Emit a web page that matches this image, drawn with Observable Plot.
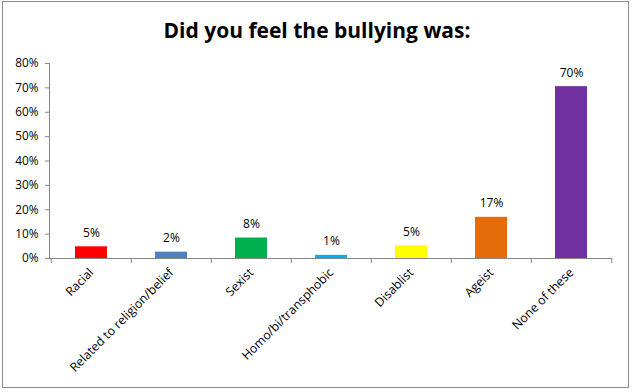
<!DOCTYPE html>
<html>
<head>
<meta charset="utf-8">
<script src="https://cdn.jsdelivr.net/npm/d3@7"></script>
<script src="https://cdn.jsdelivr.net/npm/@observablehq/plot@0.6"></script>
<style>
  html, body { margin: 0; padding: 0; background: #fff; }
  #wrap { position: relative; width: 634px; height: 392px; font-family: "Open Sans", sans-serif; }
  #frame { position: absolute; left: 2px; top: 1px; width: 625px; height: 385px; border: 1.5px solid #8a8a8a; box-sizing: content-box; pointer-events: none; }
  #title { position: absolute; left: 0; top: 17px; width: 634px; text-align: center; font-size: 21px; line-height: 26px; font-weight: 700; color: #000; }
  #chart { position: absolute; left: 0; top: 0; }
</style>
</head>
<body>
<div id="wrap">
  <div id="chart"></div>
  <div id="title">Did you feel the bullying was:</div>
  <div id="frame"></div>
</div>
<script>
const categories = ["Racial", "Related to religion/belief", "Sexist", "Homo/bi/transphobic", "Disablist", "Ageist", "None of these"];
const values = [0.048, 0.026, 0.084, 0.013, 0.052, 0.169, 0.705];
const labels = ["5%", "2%", "8%", "1%", "5%", "17%", "70%"];
const colors = ["#ff0000", "#4f81bd", "#00b050", "#00b0f0", "#ffff00", "#e46c0a", "#7030a0"];
const yTicks = [0, 0.1, 0.2, 0.3, 0.4, 0.5, 0.6, 0.7, 0.8];

const data = categories.map((c, i) => ({category: c, value: values[i], label: labels[i], color: colors[i]}));

const W = 634, H = 392, ML = 49, MR = 22, MT = 63, MB = 134;
const step = (W - ML - MR) / categories.length;
const axisColor = "#868686";

const chart = Plot.plot({
  width: W,
  height: H,
  marginLeft: ML,
  marginRight: MR,
  marginTop: MT,
  marginBottom: MB,
  style: {fontFamily: "Open Sans, sans-serif", fontSize: "12px", color: "#000", background: "transparent", overflow: "visible"},
  x: {domain: categories, paddingInner: 0.6, paddingOuter: 0.3, label: null},
  y: {domain: [0, 0.8], label: null},
  marks: [
    Plot.axisY({ticks: yTicks, tickFormat: d => Math.round(d * 100) + "%", tickSize: 4, tickPadding: 7, stroke: axisColor, fontSize: 11.8, label: null}),
    Plot.axisX({tickRotate: -45, tickSize: 0, tickPadding: 12, fontSize: 12.3, label: null}),
    Plot.barY(data, {x: "category", y: "value", fill: "color"}),
    Plot.text(data, {x: "category", y: "value", text: "label", dy: -14, fontSize: 12, fill: "#000"}),
    Plot.ruleY([0], {stroke: axisColor, strokeWidth: 1}),
    Plot.frame({anchor: "left", stroke: axisColor}),
    Plot.ruleX(categories, {x: d => d, y1: 0, y2: 0, insetBottom: -5, dx: -step / 2, stroke: axisColor}),
    Plot.ruleX([categories[categories.length - 1]], {x: d => d, y1: 0, y2: 0, insetBottom: -5, dx: step / 2, stroke: axisColor})
  ]
});
document.getElementById("chart").appendChild(chart);
</script>
</body>
</html>
